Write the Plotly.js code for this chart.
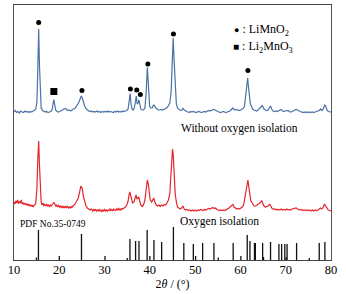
<!DOCTYPE html>
<html>
<head>
<meta charset="utf-8">
<script src="https://cdn.plot.ly/plotly-3.0.1.min.js"></script>
<style>html,body{margin:0;padding:0;background:#fff;}#chart{width:346px;height:294px;}</style>
</head>
<body>
<div id="chart"></div>
<script>
// 2θ (°) and intensity (a.u.)
const bluePts = [
[10.0,148],[10.3,149.5],[10.6,147.5],[10.9,148.5],[11.2,147],[11.5,149],[11.8,148],[12.1,147.5],[12.4,149],[12.7,148],
[13.0,148.5],[13.3,147.5],[13.6,148.5],[13.9,148],[14.2,149],[14.5,149.5],[14.8,151],[15.05,157],[15.25,190],[15.45,231],
[15.62,195],[15.8,160],[16.0,152],[16.3,149.5],[16.6,148.5],[16.9,148],[17.2,148.5],[17.5,147.5],[17.8,148],[18.1,148.5],
[18.4,150],[18.6,156],[18.8,160.5],[19.0,155],[19.2,150],[19.5,148.5],[19.8,148],[20.1,148.5],[20.4,149],[20.7,150],
[21.0,151],[21.3,151.5],[21.6,150.5],[21.9,149.5],[22.2,150],[22.5,149],[22.8,150],[23.1,150.5],[23.4,151.5],[23.7,153],
[24.0,155],[24.3,157.5],[24.6,161],[24.85,164],[25.05,162.5],[25.3,158],[25.6,154],[25.9,151.5],[26.2,150],[26.5,149],
[26.8,148.5],[27.1,149],[27.4,148],[27.7,148.5],[28.0,148],[28.3,149],[28.6,148],[28.9,148.5],[29.2,147.5],[29.5,148.5],
[29.8,148],[30.1,148.5],[30.4,148],[30.7,149],[31.0,148],[31.3,148.5],[31.6,148],[31.9,147.5],[32.2,148.5],[32.5,148],
[32.8,149],[33.1,148],[33.4,148.5],[33.7,148],[34.0,149],[34.3,148.5],[34.6,149],[34.9,149.5],[35.2,151],[35.45,158],
[35.65,166.5],[35.85,156],[36.05,151],[36.3,150],[36.55,152],[36.8,158],[37.0,164],[37.2,156],[37.4,157],[37.6,160],
[37.8,154],[38.0,151],[38.3,150],[38.6,150],[38.9,152],[39.15,165],[39.45,192.5],[39.7,168],[39.95,154],[40.2,152],
[40.5,152],[40.8,155],[41.0,154.5],[41.3,152],[41.6,150.5],[41.9,150],[42.2,150],[42.5,150.5],[42.8,150],[43.1,150.5],
[43.4,151],[43.7,152],[44.0,153.5],[44.4,157],[44.7,168],[44.95,195],[45.15,222],[45.35,200],[45.6,168],[45.85,156],
[46.1,152],[46.4,150.5],[46.7,149.5],[47.0,149.5],[47.3,152],[47.5,150.5],[47.8,149],[48.1,148.5],[48.4,148],[48.7,147.5],
[49.0,148.5],[49.3,148],[49.6,148.5],[49.9,148],[50.2,147.5],[50.5,148],[50.8,148.5],[51.1,148],[51.4,147.5],[51.7,148],
[52.0,148.5],[52.3,148],[52.6,149],[52.9,149.5],[53.2,149],[53.5,149.5],[53.8,150],[54.1,150.5],[54.4,150],[54.7,149],
[55.0,148.5],[55.3,148],[55.6,147.5],[55.9,148],[56.2,148.5],[56.5,148],[56.8,147.5],[57.1,148],[57.4,148.5],[57.7,149],
[58.0,150.5],[58.3,152],[58.5,151],[58.8,150],[59.1,150.5],[59.4,150],[59.7,149.5],[60.0,150],[60.3,151],[60.6,151.5],
[60.9,154],[61.15,163],[61.4,175],[61.6,182],[61.8,172],[62.0,160],[62.2,156],[62.4,154],[62.7,151],[63.0,150],
[63.3,149.5],[63.6,149],[63.9,150],[64.2,151.5],[64.5,153],[64.8,154.5],[65.0,153],[65.2,151],[65.5,150],[65.8,149.5],
[66.1,150],[66.4,152.5],[66.65,154],[66.9,151],[67.2,149],[67.5,148.5],[67.8,149],[68.1,148.5],[68.4,149],[68.7,150],
[69.0,150.5],[69.3,149],[69.6,148.5],[69.9,149],[70.2,149.5],[70.5,149.5],[70.8,148.5],[71.1,148],[71.4,148.5],[71.7,149],
[72.0,149.5],[72.3,150.5],[72.6,150],[72.9,149],[73.2,148.5],[73.5,148],[73.8,147.5],[74.1,148],[74.4,147.5],[74.7,148],
[75.0,147.5],[75.3,148],[75.6,147.5],[75.9,148],[76.2,147.5],[76.5,148],[76.8,148.5],[77.1,148.5],[77.4,149.5],[77.7,151],
[78.0,149.5],[78.3,151],[78.6,155],[78.85,154],[79.1,150],[79.4,148.5],[79.7,148],[80.0,148]
];
const redPts = [
[10.0,58],[10.2,56],[10.4,59],[10.6,57],[10.8,60],[11.0,56.5],[11.2,58.5],[11.4,57],[11.6,60],[11.8,56],
[12.0,57.5],[12.2,55.5],[12.4,57],[12.6,55],[12.8,56.5],[13.0,54.5],[13.2,56],[13.4,54],[13.6,55.5],[13.8,53.5],
[14.0,55],[14.2,53],[14.4,54.5],[14.6,55],[14.8,57],[15.05,70],[15.25,100],[15.45,119],[15.62,95],[15.8,66],
[16.0,58],[16.2,55],[16.4,57],[16.6,54.5],[16.8,55.5],[17.0,54],[17.2,56],[17.4,54],[17.6,55],[17.8,53.5],
[18.0,55],[18.2,54],[18.5,56],[18.8,57.5],[19.0,56],[19.2,54],[19.4,55],[19.6,53],[19.8,54.5],[20.0,53],
[20.2,54],[20.4,52.5],[20.6,54],[20.8,52],[21.0,53.5],[21.2,52],[21.4,54],[21.6,52.5],[21.8,53.5],[22.0,52],
[22.2,53],[22.4,52],[22.6,53.5],[22.8,52.5],[23.0,54],[23.3,55],[23.6,57],[23.9,59],[24.2,62],[24.5,68],
[24.75,74],[24.9,73],[25.1,71],[25.3,64],[25.6,58],[25.9,54],[26.2,52],[26.5,51],[26.8,50],[27.0,51],
[27.2,50.5],[27.4,49],[27.6,50.5],[27.8,49.5],[28.0,50.5],[28.2,49],[28.4,50],[28.6,49],[28.8,50.5],[29.0,49],
[29.2,50],[29.4,48.5],[29.6,50],[29.8,49],[30.0,50.5],[30.2,49],[30.4,50],[30.6,49],[30.8,50],[31.0,49.5],
[31.2,51],[31.4,49.5],[31.6,50.5],[31.8,49],[32.0,51],[32.2,50],[32.4,49.5],[32.6,51],[32.8,50],[33.0,51.5],
[33.2,50],[33.4,51],[33.6,50],[33.8,51.5],[34.0,51],[34.3,52],[34.6,53],[34.9,55],[35.2,59],[35.45,66],
[35.6,68],[35.8,64],[36.0,59],[36.2,57],[36.5,58],[36.75,63],[36.95,65],[37.15,61],[37.35,62],[37.55,63],
[37.75,59],[38.0,55],[38.3,53.5],[38.6,55],[38.9,60],[39.2,70],[39.45,80],[39.65,76],[39.85,66],[40.1,60],
[40.4,58],[40.65,60],[40.85,62],[41.1,58],[41.4,55],[41.7,54],[42.0,55],[42.3,53.5],[42.6,55],[42.9,54],
[43.2,55.5],[43.5,55],[43.8,57],[44.1,60],[44.4,66],[44.65,85],[44.85,105],[45.0,111],[45.15,106],[45.35,85],
[45.6,66],[45.85,58],[46.1,53],[46.4,52],[46.7,51],[47.0,52],[47.3,54],[47.6,51],[47.9,50],[48.2,50.5],
[48.5,49.5],[48.8,50],[49.1,49],[49.4,50],[49.7,49],[50.0,50],[50.3,49],[50.6,50],[50.9,49.5],[51.2,50.5],
[51.5,50],[51.8,49.5],[52.1,50.5],[52.4,50],[52.7,51],[53.0,51.5],[53.3,51],[53.6,52],[53.9,52.5],[54.2,51.5],
[54.5,52],[54.8,50.5],[55.1,50],[55.4,49.5],[55.7,50],[56.0,49.5],[56.3,50],[56.6,49.5],[56.9,50.5],[57.2,51],
[57.5,52],[57.8,53.5],[58.1,55],[58.35,55.5],[58.6,53],[58.9,51.5],[59.2,51],[59.5,51.5],[59.8,51],[60.1,52],
[60.4,53],[60.7,55],[60.95,62],[61.2,72],[61.45,79],[61.65,80],[61.85,73],[62.05,64],[62.3,59],[62.5,58],
[62.75,55],[63.0,54],[63.3,54],[63.6,54.5],[63.9,56],[64.2,56.5],[64.5,58],[64.7,59.5],[64.9,57],[65.2,54],
[65.5,53],[65.8,53.5],[66.1,54],[66.4,55.5],[66.6,55],[66.9,52],[67.2,51],[67.5,50.5],[67.8,51],[68.1,50],
[68.4,50.5],[68.7,50],[69.0,51],[69.3,50],[69.6,50.5],[69.9,50],[70.2,51],[70.5,50],[70.8,50.5],[71.1,50],
[71.4,51],[71.7,51.5],[72.0,52],[72.3,52],[72.6,51],[72.9,50.5],[73.2,50],[73.5,50.5],[73.8,49.5],[74.1,50],
[74.4,49.5],[74.7,50],[75.0,49.5],[75.3,50],[75.6,49],[75.9,50],[76.2,49],[76.5,50],[76.8,49.5],[77.1,50],
[77.4,51],[77.7,52],[78.0,51],[78.3,53],[78.55,56],[78.8,54],[79.1,51],[79.4,50],[79.7,49.5],[80.0,49]
];
// PDF No.35-0749 reference lines: 2θ and relative height
const pdfX = [14.95,15.4,20.0,24.9,30.1,35.0,35.6,36.85,37.6,39.4,40.0,40.9,42.6,45.2,47.5,49.6,50.1,51.65,54.15,55.1,58.4,60.1,61.5,62.1,63.1,63.3,64.9,65.1,66.65,68.5,69.1,69.8,70.1,70.3,72.4,75.2,77.4,78.65];
const pdfH = [2.5,30,4,26,4,2,21,19,19,30,4,20,18,33,17,16,4,17,17,2.5,17,4,25,19,17,17,17,3,18,16,16,16,3,16,17,2,17,18];
// phase markers
const limno2X = [15.45,25.0,35.7,37.1,37.9,39.55,45.2,61.65];
const limno2Y = [237.5,169.5,171,170,165.5,196,226,189.5];
const li2mno3X = [18.8];
const li2mno3Y = [168.5];
const xTicks = [10,20,30,40,50,60,70,80];

const serif = 'Liberation Serif, Times New Roman, serif';
const stickX = [], stickY = [];
pdfX.forEach((x,i)=>{ stickX.push(x,x,null); stickY.push(0,pdfH[i],null); });

const traces = [
  {x: bluePts.map(p=>p[0]), y: bluePts.map(p=>p[1]), mode:'lines', line:{color:'#4b72a6', width:1.2}, hoverinfo:'skip'},
  {x: redPts.map(p=>p[0]), y: redPts.map(p=>p[1]), mode:'lines', line:{color:'#e4262b', width:1.2}, hoverinfo:'skip'},
  {x: stickX, y: stickY, mode:'lines', line:{color:'#111', width:1.3}, hoverinfo:'skip'},
  {x: limno2X, y: limno2Y, mode:'markers', marker:{symbol:'circle', size:5, color:'#000'}, hoverinfo:'skip'},
  {x: li2mno3X, y: li2mno3Y, mode:'markers', marker:{symbol:'square', size:7, color:'#000'}, hoverinfo:'skip'}
];

const layout = {
  width:346, height:294,
  margin:{l:14, r:15, t:5, b:34},
  paper_bgcolor:'#fff', plot_bgcolor:'#fff',
  showlegend:false,
  font:{family:serif, color:'#000', size:12},
  xaxis:{range:[10,80], tickvals:xTicks, ticktext:xTicks.map(String), showline:true, mirror:true, linecolor:'#444', linewidth:1,
         ticks:'', ticklabelstandoff:-2, showgrid:false, zeroline:false, tickfont:{family:serif, size:12.5, color:'#000'},
         title:{text:'2<i>θ</i> / (°)', font:{family:serif, size:12, color:'#000'}, standoff:0}},
  yaxis:{range:[0,255], showticklabels:false, showline:true, mirror:true, linecolor:'#555', linewidth:1,
         ticks:'', showgrid:false, zeroline:false},
  annotations:[
    {x:59.8, y:131.5, xref:'x', yref:'y', text:'Without oxygen isolation', showarrow:false, font:{family:serif, size:11.5, color:'#000'}, xanchor:'center', yanchor:'middle'},
    {x:55.4, y:39, xref:'x', yref:'y', text:'Oxygen isolation', showarrow:false, font:{family:serif, size:11.5, color:'#000'}, xanchor:'center', yanchor:'middle'},
    {x:18.7, y:36.5, xref:'x', yref:'y', text:'PDF No.35-0749', showarrow:false, font:{family:serif, size:9.5, color:'#000'}, xanchor:'center', yanchor:'middle'},
    {x:0.687, y:0.9, xref:'paper', yref:'paper', text:'<span style="font-size:9px">●</span> : LiMnO<sub>2</sub>', showarrow:false, font:{family:serif, size:12, color:'#000'}, xanchor:'left', yanchor:'middle'},
    {x:0.684, y:0.837, xref:'paper', yref:'paper', text:'<span style="font-size:10px">■</span> : Li<sub>2</sub>MnO<sub>3</sub>', showarrow:false, font:{family:serif, size:12, color:'#000'}, xanchor:'left', yanchor:'middle'}
  ]
};
Plotly.newPlot('chart', traces, layout, {staticPlot:true, displayModeBar:false});
</script>
</body>
</html>
